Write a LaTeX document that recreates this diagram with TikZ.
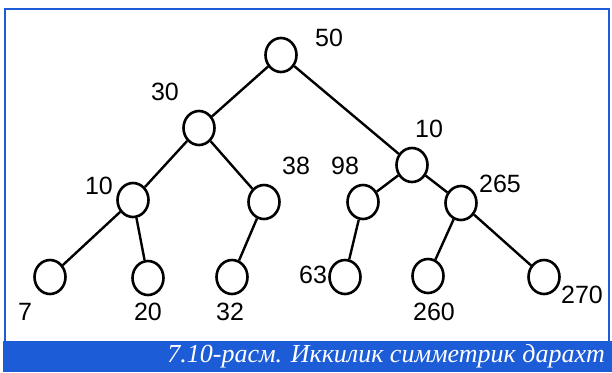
\documentclass[tikz,border=0pt]{standalone}
\usepackage{fontspec}
\usetikzlibrary{shapes.geometric}
\setmainfont{Liberation Sans}
\newfontfamily\capfont{Liberation Serif}
\definecolor{barblue}{RGB}{28,92,214}

\begin{document}
\begin{tikzpicture}[x=1pt, y=-1pt,
		vertex/.style={draw, ellipse, line width=2.6pt, minimum width=31pt, minimum height=34pt, inner sep=0pt},
		edge/.style={line width=2.4pt},
		val/.style={font=\fontsize{25}{25}\selectfont, inner sep=0pt}
	]
	\useasboundingbox (0,0) rectangle (612,372);
	% frame and caption bar
	\draw[barblue, line width=2pt] (5,9) rectangle (609,342);
	\fill[barblue] (3,341) rectangle (612,372);
	\node[anchor=base east, text=white, inner sep=0pt] (cap) at (605,362)
		{\capfont\itshape\fontsize{26}{26}\selectfont 7.10-расм. Иккилик симметрик дарахт};
	% tree
	\node[vertex] (r)   at (281, 55) {};
	\node[vertex] (a)   at (199,128) {};
	\node[vertex] (b)   at (412,165) {};
	\node[vertex] (aa)  at (133,200) {};
	\node[vertex] (ab)  at (264,202) {};
	\node[vertex] (ba)  at (363,202) {};
	\node[vertex] (bb)  at (461,203) {};
	\node[vertex] (aaa) at ( 50,277) {};
	\node[vertex] (aab) at (148,278) {};
	\node[vertex] (aba) at (232,277) {};
	\node[vertex] (baa) at (345,277) {};
	\node[vertex] (bba) at (428,276) {};
	\node[vertex] (bbb) at (544,277) {};
	\foreach \p/\c in {r/a, r/b, a/aa, a/ab, b/ba, b/bb, aa/aaa, aa/aab, ab/aba, ba/baa, bb/bba, bb/bbb}
		\draw[edge] (\p) -- (\c);
	% values
	\node[val] (vr)   at (329, 38) {50};
	\node[val] (va)   at (165, 92) {30};
	\node[val] (vb)   at (429,129) {10};
	\node[val] (vaa)  at ( 99,186) {10};
	\node[val] (vab)  at (296,166) {38};
	\node[val] (vba)  at (345,166) {98};
	\node[val] (vbb)  at (500,184) {265};
	\node[val] (vaaa) at ( 25,312) {7};
	\node[val] (vaab) at (148,312) {20};
	\node[val] (vaba) at (230,312) {32};
	\node[val] (vbaa) at (313,275) {63};
	\node[val] (vbba) at (434,312) {260};
	\node[val] (vbbb) at (582,295) {270};
\end{tikzpicture}
\end{document}
